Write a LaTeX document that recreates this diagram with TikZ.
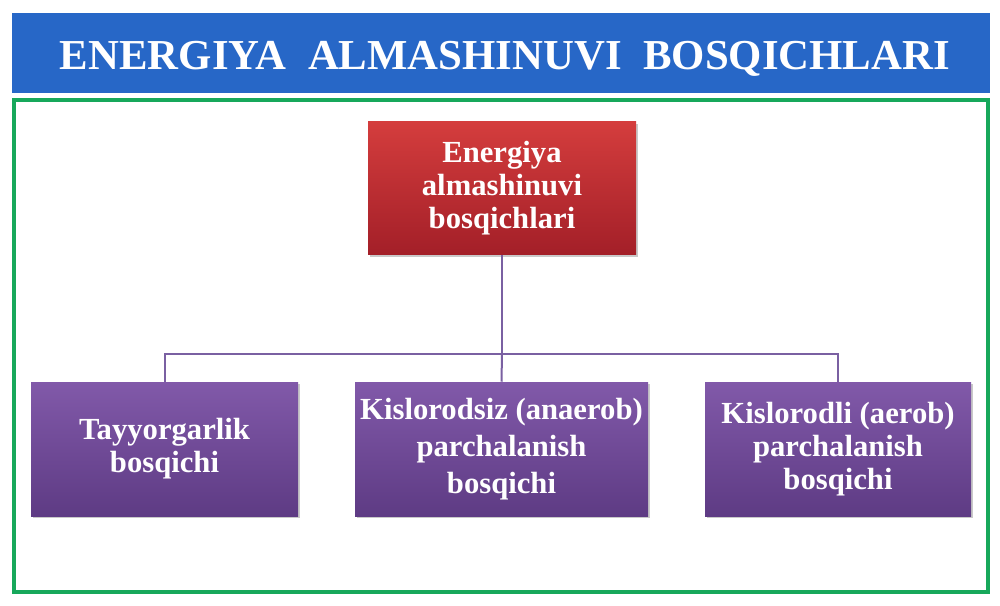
\documentclass[tikz,border=0pt]{standalone}
\usepackage{fontspec}
\setmainfont{Liberation Serif}
\usetikzlibrary{shadows}
\definecolor{banner}{HTML}{2767C7}
\definecolor{frame}{HTML}{17A85B}
\definecolor{redtop}{HTML}{D43D3D}
\definecolor{redbot}{HTML}{A31F28}
\definecolor{purtop}{HTML}{8159A9}
\definecolor{purbot}{HTML}{5E3B84}
\definecolor{conncol}{HTML}{7A60A2}
\tikzset{
  box/.style={draw=none, align=center, text=white, font=\bfseries\fontsize{23}{24.75}\selectfont,
    inner sep=2pt, drop shadow={shadow xshift=1.5pt, shadow yshift=-1.5pt, opacity=0.35, fill=black!60}},
  redbox/.style={box, top color=redtop, bottom color=redbot, minimum width=201pt, minimum height=99.75pt},
  purbox/.style={box, top color=purtop, bottom color=purbot, minimum height=100.5pt},
  conn/.style={draw=conncol, line width=1.5pt}
}
\begin{document}
\begin{tikzpicture}[x=0.75pt,y=-0.75pt]
\useasboundingbox (0,0) rectangle (1000,606);
\fill[white] (0,0) rectangle (1000,606);
% banner
\fill[banner] (12,13) rectangle (990,93);
\node[text=white, font=\bfseries\fontsize{32}{36}\selectfont, inner sep=0pt, anchor=base] (title) at (505,70)
  {\resizebox{667.5pt}{\height}{ENERGIYA\ \ ALMASHINUVI\ \ BOSQICHLARI}};
% frame
\draw[frame, line width=3pt] (14,100) rectangle (988,592);
% boxes
\node[redbox] (top) at (502,188.5) {Energiya\\almashinuvi\\bosqichlari};
\node[purbox, minimum width=200.25pt] (left) at (164.5,449) {Tayyorgarlik\\bosqichi};
\node[purbox, minimum width=219.75pt, font=\bfseries\fontsize{23}{27.75}\selectfont] (mid) at (501.5,449) {Kislorodsiz (anaerob)\\parchalanish\\bosqichi};
\node[purbox, minimum width=199.5pt] (right) at (838,449) {Kislorodli (aerob)\\parchalanish\\bosqichi};
% connectors
\coordinate (j) at (502,354);
\draw[conn] (top.south) -- (j);
\draw[conn] (left.north) |- (j) -| (right.north);
\draw[conn] (j) -- (mid.north);
\end{tikzpicture}
\end{document}
